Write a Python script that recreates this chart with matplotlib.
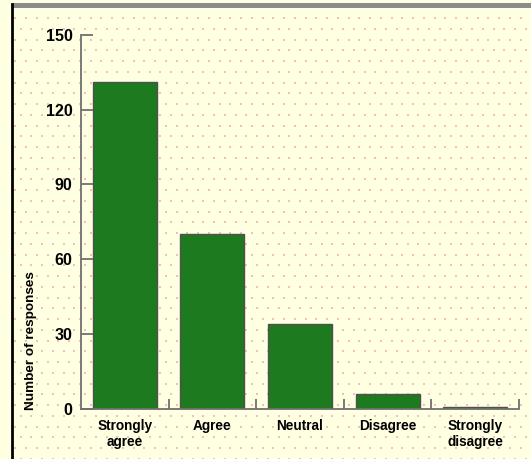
import matplotlib
matplotlib.use("Agg")
import matplotlib.pyplot as plt
import numpy as np
from matplotlib.lines import Line2D
from matplotlib.patches import Rectangle

# Survey results
categories = ["Strongly\nagree", "Agree", "Neutral", "Disagree", "Strongly\ndisagree"]
responses = [131, 70, 34, 6, 1]
y_ticks = [0, 30, 60, 90, 120, 150]
y_label = "Number of responses"

FONT = ["Liberation Sans Narrow", "Liberation Sans", "DejaVu Sans"]
W, H = 531, 459

fig = plt.figure(figsize=(W / 100, H / 100), dpi=100)
fig.patch.set_facecolor("#FFFFE2")

# Dotted paper background
bg = fig.add_axes([0, 0, 1, 1], zorder=-10)
bg.set_xlim(0, W)
bg.set_ylim(H, 0)
bg.axis("off")
step = 10.75
ys = np.arange(18.0, H, step)
pts_x, pts_y = [], []
for i, yy in enumerate(ys):
    off = 3.3 if i % 2 == 0 else 3.3 + step / 2
    xs = np.arange(12 + off, W, step)
    pts_x.extend(xs)
    pts_y.extend([yy] * len(xs))
bg.scatter(pts_x, pts_y, s=4, color="#F4BCC4", marker="s", linewidths=0)

# Frame: grey top band, black left rule
fig.add_artist(Rectangle((12 / W, 1 - 8 / H), 1 - 12 / W, 5 / H,
                         transform=fig.transFigure, facecolor="#8c8c8c",
                         edgecolor="none"))
fig.add_artist(Line2D([12 / W, 12 / W], [0, 1 - 4 / H], transform=fig.transFigure,
                      color="black", lw=2))

# Chart area
x0, x1 = 81, 519
y_base, y_top = 409, 34.7
ax = fig.add_axes([x0 / W, 1 - y_base / H, (x1 - x0) / W, (y_base - y_top) / H])
ax.patch.set_alpha(0)

x = np.arange(len(categories))
ax.bar(x, responses, width=0.73, color="#1E7A1E", edgecolor="#505050", linewidth=1)

ax.set_xlim(-0.5, len(categories) - 0.5)
ax.set_ylim(0, 150)

for side in ("top", "right"):
    ax.spines[side].set_visible(False)
for side in ("left", "bottom"):
    ax.spines[side].set_color("#707070")
    ax.spines[side].set_linewidth(1.3)

ax.set_yticks(y_ticks)
ax.set_yticklabels([str(v) for v in y_ticks], fontfamily=FONT,
                   fontweight="bold", fontsize=11.5)
ax.tick_params(axis="y", direction="in", length=8.6, width=1.3,
               color="#707070", pad=6)

ax.set_xticks(x)
ax.set_xticklabels(categories, fontfamily=FONT, fontweight="bold",
                   fontsize=9.8, linespacing=1.2)
ax.tick_params(axis="x", which="major", length=0, pad=7)
ax.set_xticks(np.arange(0.5, len(categories), 1.0), minor=True)
ax.tick_params(axis="x", which="minor", direction="in", length=7,
               width=1.3, color="#707070")

fig.text(31 / W, 1 - 341 / H, y_label, rotation=90, ha="center", va="center",
         fontfamily=FONT, fontweight="bold", fontsize=9.7)

fig.savefig("out.png", dpi=100, facecolor=fig.get_facecolor())
